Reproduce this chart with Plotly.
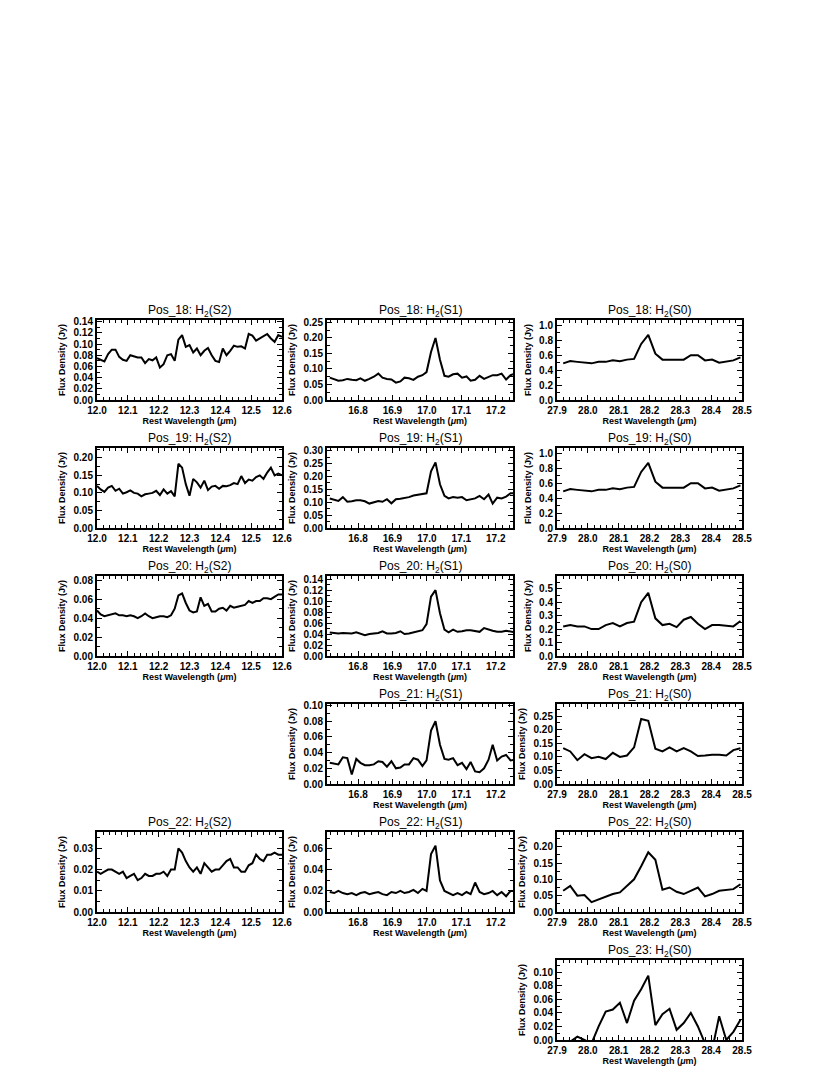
import plotly.graph_objects as go

# wavelength grids (micron)
wave_s2 = [12.000, 12.012, 12.024, 12.036, 12.048, 12.060, 12.072, 12.084, 12.096, 12.108,
           12.120, 12.132, 12.144, 12.156, 12.168, 12.180, 12.192, 12.204, 12.216, 12.228,
           12.240, 12.252, 12.264, 12.276, 12.288, 12.300, 12.312, 12.324, 12.336, 12.348,
           12.360, 12.372, 12.384, 12.396, 12.408, 12.420, 12.432, 12.444, 12.456, 12.468,
           12.480, 12.492, 12.504, 12.516, 12.528, 12.540, 12.552, 12.564, 12.576, 12.588, 12.600]
wave_s1 = [16.718, 16.731, 16.743, 16.756, 16.769, 16.782, 16.795, 16.807, 16.820, 16.833,
           16.846, 16.859, 16.871, 16.884, 16.897, 16.910, 16.923, 16.935, 16.948, 16.961,
           16.974, 16.987, 16.999, 17.012, 17.025, 17.038, 17.051, 17.063, 17.076, 17.089,
           17.102, 17.115, 17.127, 17.140, 17.153, 17.166, 17.179, 17.191, 17.204, 17.217,
           17.230, 17.243, 17.255, 17.268]
wave_s0 = [27.920, 27.943, 27.966, 27.989, 28.012, 28.035, 28.058, 28.081, 28.104, 28.127,
           28.150, 28.173, 28.196, 28.219, 28.242, 28.265, 28.288, 28.311, 28.334, 28.357,
           28.380, 28.403, 28.426, 28.449, 28.472, 28.495]

# x tick labels per band
ticks_s2 = [12.0, 12.1, 12.2, 12.3, 12.4, 12.5, 12.6]
ticks_s1 = [16.8, 16.9, 17.0, 17.1, 17.2]
ticks_s0 = [27.9, 28.0, 28.1, 28.2, 28.3, 28.4, 28.5]

# flux densities (Jy)
pos18_s2 = [0.075, 0.072, 0.069, 0.082, 0.090, 0.090, 0.077, 0.072, 0.070, 0.080,
            0.078, 0.076, 0.076, 0.066, 0.073, 0.071, 0.076, 0.058, 0.064, 0.080,
            0.082, 0.070, 0.108, 0.116, 0.095, 0.098, 0.085, 0.092, 0.080, 0.088,
            0.093, 0.080, 0.070, 0.068, 0.092, 0.080, 0.088, 0.097, 0.095, 0.096,
            0.092, 0.118, 0.115, 0.106, 0.110, 0.114, 0.118, 0.110, 0.104, 0.116, 0.113]
pos19_s2 = [0.120, 0.110, 0.103, 0.115, 0.120, 0.106, 0.112, 0.098, 0.102, 0.107,
            0.100, 0.098, 0.090, 0.096, 0.098, 0.100, 0.106, 0.094, 0.110, 0.098,
            0.105, 0.090, 0.183, 0.172, 0.125, 0.092, 0.140, 0.130, 0.115, 0.135,
            0.108, 0.118, 0.120, 0.112, 0.120, 0.119, 0.122, 0.128, 0.125, 0.148,
            0.128, 0.138, 0.135, 0.145, 0.150, 0.140, 0.158, 0.172, 0.150, 0.155, 0.150]
pos20_s2 = [0.048, 0.044, 0.042, 0.043, 0.044, 0.045, 0.043, 0.043, 0.042, 0.043,
            0.042, 0.040, 0.042, 0.045, 0.042, 0.040, 0.041, 0.042, 0.042, 0.041,
            0.043, 0.050, 0.064, 0.066, 0.056, 0.048, 0.046, 0.047, 0.062, 0.053,
            0.055, 0.047, 0.047, 0.050, 0.051, 0.048, 0.053, 0.051, 0.052, 0.053,
            0.054, 0.058, 0.056, 0.058, 0.058, 0.061, 0.061, 0.060, 0.063, 0.065, 0.065]
pos22_s2 = [0.019, 0.018, 0.019, 0.020, 0.020, 0.019, 0.018, 0.019, 0.016, 0.017,
            0.018, 0.015, 0.016, 0.018, 0.017, 0.017, 0.018, 0.018, 0.019, 0.017,
            0.020, 0.020, 0.030, 0.028, 0.024, 0.021, 0.019, 0.021, 0.018, 0.023,
            0.021, 0.019, 0.020, 0.020, 0.022, 0.024, 0.025, 0.021, 0.021, 0.019,
            0.019, 0.022, 0.023, 0.027, 0.025, 0.024, 0.027, 0.027, 0.028, 0.027, 0.027]

pos18_s1 = [0.072, 0.066, 0.062, 0.064, 0.068, 0.065, 0.064, 0.070, 0.062, 0.068,
            0.075, 0.085, 0.072, 0.068, 0.066, 0.056, 0.060, 0.072, 0.070, 0.065,
            0.075, 0.080, 0.090, 0.155, 0.200, 0.130, 0.078, 0.075, 0.083, 0.085,
            0.072, 0.076, 0.062, 0.065, 0.078, 0.068, 0.075, 0.080, 0.080, 0.085,
            0.066, 0.080, 0.085, 0.087]
pos19_s1 = [0.115, 0.110, 0.105, 0.120, 0.102, 0.104, 0.108, 0.108, 0.104, 0.095,
            0.100, 0.105, 0.102, 0.112, 0.096, 0.112, 0.114, 0.116, 0.120, 0.126,
            0.130, 0.132, 0.135, 0.220, 0.255, 0.170, 0.125, 0.115, 0.120, 0.118,
            0.120, 0.108, 0.112, 0.115, 0.125, 0.112, 0.130, 0.095, 0.118, 0.115,
            0.122, 0.135, 0.135, 0.135]
pos20_s1 = [0.043, 0.042, 0.041, 0.042, 0.042, 0.041, 0.043, 0.041, 0.038, 0.040,
            0.041, 0.042, 0.045, 0.041, 0.041, 0.042, 0.045, 0.040, 0.041, 0.043,
            0.046, 0.047, 0.058, 0.108, 0.120, 0.078, 0.048, 0.043, 0.048, 0.044,
            0.045, 0.047, 0.047, 0.046, 0.044, 0.051, 0.048, 0.046, 0.044, 0.044,
            0.046, 0.045, 0.043, 0.044]
pos21_s1 = [0.027, 0.026, 0.025, 0.034, 0.033, 0.012, 0.032, 0.027, 0.024, 0.024,
            0.025, 0.029, 0.028, 0.022, 0.029, 0.020, 0.021, 0.025, 0.025, 0.033,
            0.031, 0.023, 0.030, 0.068, 0.080, 0.050, 0.032, 0.031, 0.033, 0.024,
            0.027, 0.019, 0.028, 0.016, 0.015, 0.020, 0.031, 0.050, 0.030, 0.035,
            0.037, 0.030, 0.031, 0.030]
pos22_s1 = [0.019, 0.018, 0.020, 0.018, 0.017, 0.018, 0.016, 0.018, 0.019, 0.017,
            0.018, 0.019, 0.017, 0.016, 0.019, 0.018, 0.020, 0.018, 0.019, 0.021,
            0.018, 0.022, 0.020, 0.055, 0.063, 0.030, 0.020, 0.018, 0.016, 0.018,
            0.016, 0.019, 0.017, 0.028, 0.019, 0.017, 0.018, 0.020, 0.016, 0.019,
            0.015, 0.020, 0.020, 0.019]

pos18_s0 = [0.49, 0.52, 0.51, 0.50, 0.49, 0.51, 0.51, 0.53, 0.52, 0.54,
            0.55, 0.75, 0.87, 0.62, 0.54, 0.54, 0.54, 0.54, 0.60, 0.60,
            0.53, 0.54, 0.50, 0.51, 0.53, 0.57]
pos19_s0 = [0.49, 0.52, 0.51, 0.50, 0.49, 0.51, 0.51, 0.53, 0.52, 0.54,
            0.55, 0.75, 0.87, 0.62, 0.54, 0.54, 0.54, 0.54, 0.60, 0.60,
            0.53, 0.54, 0.50, 0.51, 0.53, 0.57]
pos20_s0 = [0.220, 0.230, 0.220, 0.220, 0.200, 0.200, 0.230, 0.245, 0.220, 0.245,
            0.255, 0.400, 0.470, 0.280, 0.230, 0.240, 0.215, 0.270, 0.290, 0.240,
            0.200, 0.230, 0.230, 0.225, 0.220, 0.260]
pos21_s0 = [0.132, 0.120, 0.088, 0.110, 0.095, 0.100, 0.092, 0.115, 0.100, 0.105,
            0.135, 0.240, 0.233, 0.130, 0.120, 0.135, 0.120, 0.132, 0.120, 0.103,
            0.105, 0.108, 0.108, 0.105, 0.125, 0.132]
pos22_s0 = [0.065, 0.080, 0.050, 0.052, 0.030, 0.038, 0.045, 0.055, 0.060, 0.080,
            0.100, 0.140, 0.183, 0.160, 0.068, 0.075, 0.062, 0.055, 0.065, 0.075,
            0.048, 0.055, 0.065, 0.068, 0.070, 0.085]
pos23_s0 = [-0.010, -0.002, 0.005, 0.000, -0.005, 0.020, 0.042, 0.045, 0.055, 0.025,
            0.058, 0.075, 0.095, 0.022, 0.038, 0.046, 0.015, 0.025, 0.040, 0.020,
            -0.005, -0.015, 0.035, 0.000, 0.012, 0.030]

W, H = 830, 1075
OFF = 8  # page body margin
col_px = [(97, 282), (327, 513), (557, 742)]
row_top = [320, 448, 576, 704, 832, 960]
box_h = 80

bands = {
    'S2': (wave_s2, [12.0, 12.6], ticks_s2),
    'S1': (wave_s1, [16.71, 17.25], ticks_s1),
    'S0': (wave_s0, [27.9, 28.5], ticks_s0),
}

# (row, col, position, band, flux, ymax, dtick, fmt)
panels = [
    (0, 0, 'Pos_18', 'S2', pos18_s2, 0.143, 0.02, '.2f'),
    (0, 1, 'Pos_18', 'S1', pos18_s1, 0.258, 0.05, '.2f'),
    (0, 2, 'Pos_18', 'S0', pos18_s0, 1.07, 0.2, '.1f'),
    (1, 0, 'Pos_19', 'S2', pos19_s2, 0.228, 0.05, '.2f'),
    (1, 1, 'Pos_19', 'S1', pos19_s1, 0.311, 0.05, '.2f'),
    (1, 2, 'Pos_19', 'S0', pos19_s0, 1.07, 0.2, '.1f'),
    (2, 0, 'Pos_20', 'S2', pos20_s2, 0.0845, 0.02, '.2f'),
    (2, 1, 'Pos_20', 'S1', pos20_s1, 0.1457, 0.02, '.2f'),
    (2, 2, 'Pos_20', 'S0', pos20_s0, 0.595, 0.1, '.1f'),
    (3, 1, 'Pos_21', 'S1', pos21_s1, 0.102, 0.02, '.2f'),
    (3, 2, 'Pos_21', 'S0', pos21_s0, 0.295, 0.05, '.2f'),
    (4, 0, 'Pos_22', 'S2', pos22_s2, 0.0377, 0.01, '.2f'),
    (4, 1, 'Pos_22', 'S1', pos22_s1, 0.076, 0.02, '.2f'),
    (4, 2, 'Pos_22', 'S0', pos22_s0, 0.245, 0.05, '.2f'),
    (5, 2, 'Pos_23', 'S0', pos23_s0, 0.118, 0.02, '.2f'),
]

FONT = 'Liberation Sans'
fig = go.Figure()
layout = {}
annotations = []

for i, (r, c, pos, band, flux, ymax, dy, fmt) in enumerate(panels):
    n = '' if i == 0 else str(i + 1)
    wave, xr, xt = bands[band]
    fig.add_trace(go.Scatter(x=wave, y=flux, mode='lines', xaxis='x' + n, yaxis='y' + n,
                             line=dict(color='black', width=2), showlegend=False))
    x0, x1 = col_px[c][0] - OFF, col_px[c][1] - OFF
    y0 = row_top[r] - OFF
    y1 = y0 + box_h
    common = dict(showline=True, linecolor='black', linewidth=2, mirror='ticks',
                  ticks='inside', ticklen=5, tickwidth=1, tickcolor='black',
                  showgrid=False, zeroline=False, automargin=False,
                  tickfont=dict(family=FONT, size=10, color='black', weight='bold'))
    layout['xaxis' + n] = dict(common, domain=[x0 / W, x1 / W], anchor='y' + n,
                               range=xr, tickvals=xt, ticktext=['%.1f' % v for v in xt],
                               minor=dict(ticks='inside', ticklen=3, dtick=0.02, tickcolor='black'),
                               title=dict(text='Rest Wavelength (<i>μ</i>m)', standoff=1,
                                          font=dict(family=FONT, size=9, color='black', weight='bold')))
    layout['yaxis' + n] = dict(common, domain=[1 - y1 / H, 1 - y0 / H], anchor='x' + n,
                               range=[0, ymax], dtick=dy, tickformat=fmt,
                               minor=dict(ticks='inside', ticklen=3, dtick=dy / 2, tickcolor='black'),
                               title=dict(text='Flux Density (Jy)', standoff=6,
                                          font=dict(family=FONT, size=9, color='black', weight='bold')))
    annotations.append(dict(text=pos + ': H<sub>2</sub>(' + band + ')', xref='paper', yref='paper',
                            x=(x0 + x1) / 2 / W, y=1 - (y0 + 1) / H, xanchor='center', yanchor='bottom',
                            showarrow=False, font=dict(family=FONT, size=12, color='black')))

fig.update_layout(**layout)
fig.update_layout(width=W, height=H, margin=dict(l=0, r=0, t=0, b=0),
                  paper_bgcolor='white', plot_bgcolor='white', annotations=annotations)

fig.write_html("out.html")
